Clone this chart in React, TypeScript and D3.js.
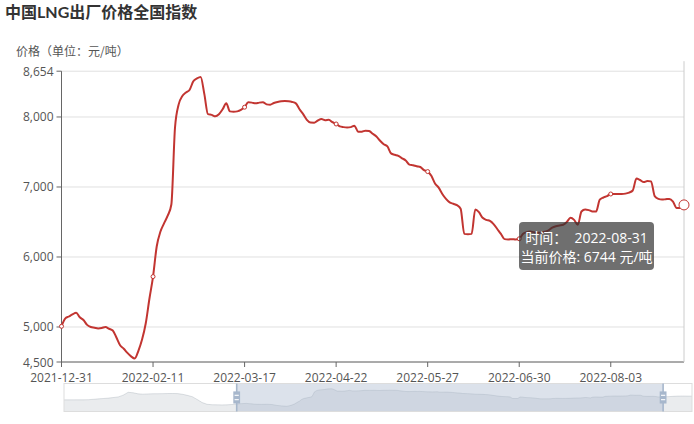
import React from 'react';
import * as d3 from 'd3';

const titleText = '中国LNG出厂价格全国指数';
const yAxisName = '价格（单位：元/吨）';

// main window prices (index 0 = 2021-12-31, last = 2022-08-31)
const prices = [
  5010, 5120, 5150, 5180, 5205, 5140, 5100, 5030, 5000, 4990,
  4980, 4985, 5000, 4975, 4950, 4850, 4740, 4690, 4630, 4580,
  4550, 4660, 4820, 5050, 5400, 5720, 6150, 6360, 6480, 6590,
  6750, 7850, 8180, 8300, 8350, 8390, 8510, 8550, 8570, 8330,
  8040, 8030, 8010, 8040, 8110, 8195, 8080, 8075, 8080, 8100,
  8140, 8210, 8205, 8195, 8205, 8210, 8180, 8175, 8200, 8215,
  8225, 8228, 8225, 8215, 8195, 8110, 8040, 7960, 7920, 7918,
  7950, 7970, 7955, 7960, 7925, 7900, 7865, 7855, 7850, 7855,
  7875, 7790, 7790, 7805, 7800, 7760, 7720, 7660, 7610, 7580,
  7480, 7460, 7445, 7410, 7380, 7320, 7310, 7295, 7285, 7240,
  7220, 7160, 7050, 6990, 6900, 6830, 6780, 6760, 6740, 6690,
  6330, 6325, 6330, 6680, 6640, 6560, 6530, 6515, 6470, 6400,
  6330, 6255, 6250, 6255, 6250, 6260, 6330, 6355, 6365, 6355,
  6345, 6350, 6360, 6380, 6420, 6440, 6450, 6460, 6500, 6560,
  6530, 6460, 6650, 6680, 6670, 6650, 6650, 6820, 6850, 6870,
  6900, 6900, 6900, 6900, 6905, 6920, 6950, 7120, 7100, 7070,
  7085, 7080, 6870, 6830, 6820, 6825, 6830, 6790, 6700, 6700,
  6744,
];

const tickIndices = [0, 25, 50, 75, 100, 125, 150];
const tickLabels = ['2021-12-31', '2022-02-11', '2022-03-17', '2022-04-22', '2022-05-27', '2022-06-30', '2022-08-03'];
const yTicks = [4500, 5000, 6000, 7000, 8000, 8654];
const yMin = 4500;
const yMax = 8654;
const lastDate = '2022-08-31';

// data outside the zoom window (only visible as the slider shadow)
const earlierPrices = [
  6020, 6020, 6025, 6030, 6030, 6060, 6150, 6250, 6330, 6420,
  6550, 6700, 7100, 7750, 7650, 7400, 7330, 7380, 7420, 7430,
  7450, 7470, 7480, 7460, 7300, 7050, 6750, 6100, 5400, 5000,
  4900, 4880, 4860, 4880, 4950,
];
const laterPrices = [6760, 6820, 6880, 6900, 6890, 6870];
const zoomStartPct = 27.5;
const zoomEndPct = 95.4;

const W = 694;
const H = 424;
const FONT = "'Open Sans', 'Noto Sans CJK SC', sans-serif";
const CJK = "'Noto Sans CJK SC', sans-serif";
const TITLE_FONT = "Lato, 'Noto Sans CJK SC', sans-serif";
const RED = '#c23531';

export default function App() {
  const gridLeft = 61.5;
  const gridRight = 684;
  const gridTop = 71.2;
  const gridBottom = 362;

  const x = d3.scaleLinear().domain([0, prices.length - 1]).range([gridLeft, gridRight]);
  const y = d3.scaleLinear().domain([yMin, yMax]).range([gridBottom, gridTop]);

  const line = d3
    .line<number>()
    .x((_, i) => x(i))
    .y((d) => y(d))
    .curve(d3.curveMonotoneX);

  // slider
  const sL = 64;
  const sR = 692;
  const sT = 383.5;
  const sH = 28;
  const sB = sT + sH;
  const sx = d3.scaleLinear().domain([0, 100]).range([sL, sR]);
  const selL = sx(zoomStartPct);
  const selR = sx(zoomEndPct);

  const all = [...earlierPrices, ...prices, ...laterPrices];
  const vMin = d3.min(all) as number;
  const vMax = d3.max(all) as number;
  const span = vMax - vMin;
  const sy = d3.scaleLinear().domain([vMin - span * 0.3, vMax + span * 0.3]).range([sB, sT]);

  const pts: [number, number][] = [];
  const ex = d3.scaleLinear().domain([0, earlierPrices.length]).range([sL, selL]);
  earlierPrices.forEach((v, i) => pts.push([ex(i), sy(v)]));
  const mx = d3.scaleLinear().domain([0, prices.length - 1]).range([selL, selR]);
  prices.forEach((v, i) => pts.push([mx(i), sy(v)]));
  const lx = d3.scaleLinear().domain([0, laterPrices.length]).range([selR, sR]);
  laterPrices.forEach((v, i) => pts.push([lx(i + 1), sy(v)]));

  const shadowArea = d3
    .area<[number, number]>()
    .x((d) => d[0])
    .y0(sB)
    .y1((d) => d[1]);
  const shadowLine = d3
    .line<[number, number]>()
    .x((d) => d[0])
    .y((d) => d[1]);

  const lastIdx = prices.length - 1;
  const px = x(lastIdx);
  const py = y(prices[lastIdx]);

  const tipW = 135;
  const tipH = 48;
  const tipX = px - 165;
  const tipY = py + 17;

  const handle = (cx: number) => {
    const k = sH / 34.4;
    const top = sT;
    return (
      <g key={cx}>
        <rect x={cx - 0.8} y={top} width={1.6} height={sH} fill="#a7b7cc" />
        <rect x={cx - 3.4} y={top + (13.6 - 3.9) * k} width={6.8} height={14.9 * k} fill="#a7b7cc" />
        <rect x={cx - 2.1} y={top + (17.7 - 3.9) * k} width={4.2} height={1.2} fill="#ffffff" opacity={0.9} />
        <rect x={cx - 2.1} y={top + (23.0 - 3.9) * k} width={4.2} height={1.2} fill="#ffffff" opacity={0.9} />
      </g>
    );
  };

  return (
    <svg
      width={W}
      height={H}
      viewBox={`0 0 ${W} ${H}`}
      style={{ position: 'fixed', left: 0, top: 0, background: '#fff' }}
    >
      <rect x={0} y={0} width={W} height={H} fill="#fff" />
      <text x={5} y={18} fontFamily={TITLE_FONT} fontSize={16} fontWeight="bold" fill="#333">
        {titleText}
      </text>
      <text x={16} y={56} fontFamily={CJK} fontSize={12} fill="#555">
        {yAxisName}
      </text>

      {/* grid lines */}
      {yTicks.map((t) => (
        <line key={'g' + t} x1={gridLeft} x2={gridRight} y1={y(t)} y2={y(t)} stroke="#e0e0e0" strokeWidth={1} />
      ))}

      {/* y axis */}
      <line x1={gridLeft} x2={gridLeft} y1={gridTop} y2={gridBottom} stroke="#666" strokeWidth={1} />
      {yTicks.map((t) => (
        <g key={'y' + t}>
          <line x1={gridLeft - 5} x2={gridLeft} y1={y(t)} y2={y(t)} stroke="#666" />
          <text
            x={gridLeft - 8}
            y={y(t)}
            textAnchor="end"
            dominantBaseline="central"
            fontFamily={FONT}
            fontSize={12}
            fill="#555"
          >
            {d3.format(',')(t)}
          </text>
        </g>
      ))}

      {/* x axis */}
      <line x1={gridLeft} x2={gridRight} y1={gridBottom} y2={gridBottom} stroke="#666" strokeWidth={1} />
      {tickIndices.map((ti, k) => (
        <g key={'x' + ti}>
          <line x1={x(ti)} x2={x(ti)} y1={gridBottom} y2={gridBottom + 5} stroke="#666" />
          <text
            x={x(ti)}
            y={gridBottom + 15}
            textAnchor="middle"
            dominantBaseline="central"
            fontFamily={FONT}
            fontSize={12}
            fill="#555"
          >
            {tickLabels[k]}
          </text>
        </g>
      ))}

      {/* axis pointer */}
      <line x1={px} x2={px} y1={gridTop - 10} y2={gridBottom} stroke="#ccc" strokeWidth={1} />

      {/* series */}
      <path d={line(prices) || ''} fill="none" stroke={RED} strokeWidth={2} strokeLinejoin="round" />
      {tickIndices.map((ti) => (
        <circle key={'m' + ti} cx={x(ti)} cy={y(prices[ti])} r={2} fill="#fff" stroke={RED} strokeWidth={1} />
      ))}
      <circle cx={px} cy={py} r={5} fill="#fff" stroke={RED} strokeWidth={1} />

      {/* tooltip */}
      <g>
        <rect x={tipX} y={tipY} width={tipW} height={tipH} rx={4} fill="rgba(50,50,50,0.7)" />
        <text
          x={tipX + tipW / 2}
          y={tipY + 16}
          textAnchor="middle"
          dominantBaseline="central"
          fontFamily={FONT}
          fontSize={14}
          fill="#fff"
          style={{ whiteSpace: 'pre' }}
        >
          {`时间：  ${lastDate}`}
        </text>
        <text
          x={tipX + tipW / 2}
          y={tipY + 35}
          textAnchor="middle"
          dominantBaseline="central"
          fontFamily={FONT}
          fontSize={14}
          fill="#fff"
          style={{ whiteSpace: 'pre' }}
        >
          {`当前价格: ${prices[lastIdx]} 元/吨`}
        </text>
      </g>

      {/* data zoom slider */}
      <g>
        <path d={shadowArea(pts) || ''} fill="rgba(47,69,84,0.1)" />
        <path d={shadowLine(pts) || ''} fill="none" stroke="rgba(47,69,84,0.3)" strokeWidth={0.5} />
        <rect x={selL} y={sT} width={selR - selL} height={sH} fill="rgba(167,183,204,0.4)" />
        <rect x={sL} y={sT} width={sR - sL} height={sH} fill="none" stroke="#ddd" strokeWidth={1} />
        {handle(selL)}
        {handle(selR)}
      </g>
    </svg>
  );
}
